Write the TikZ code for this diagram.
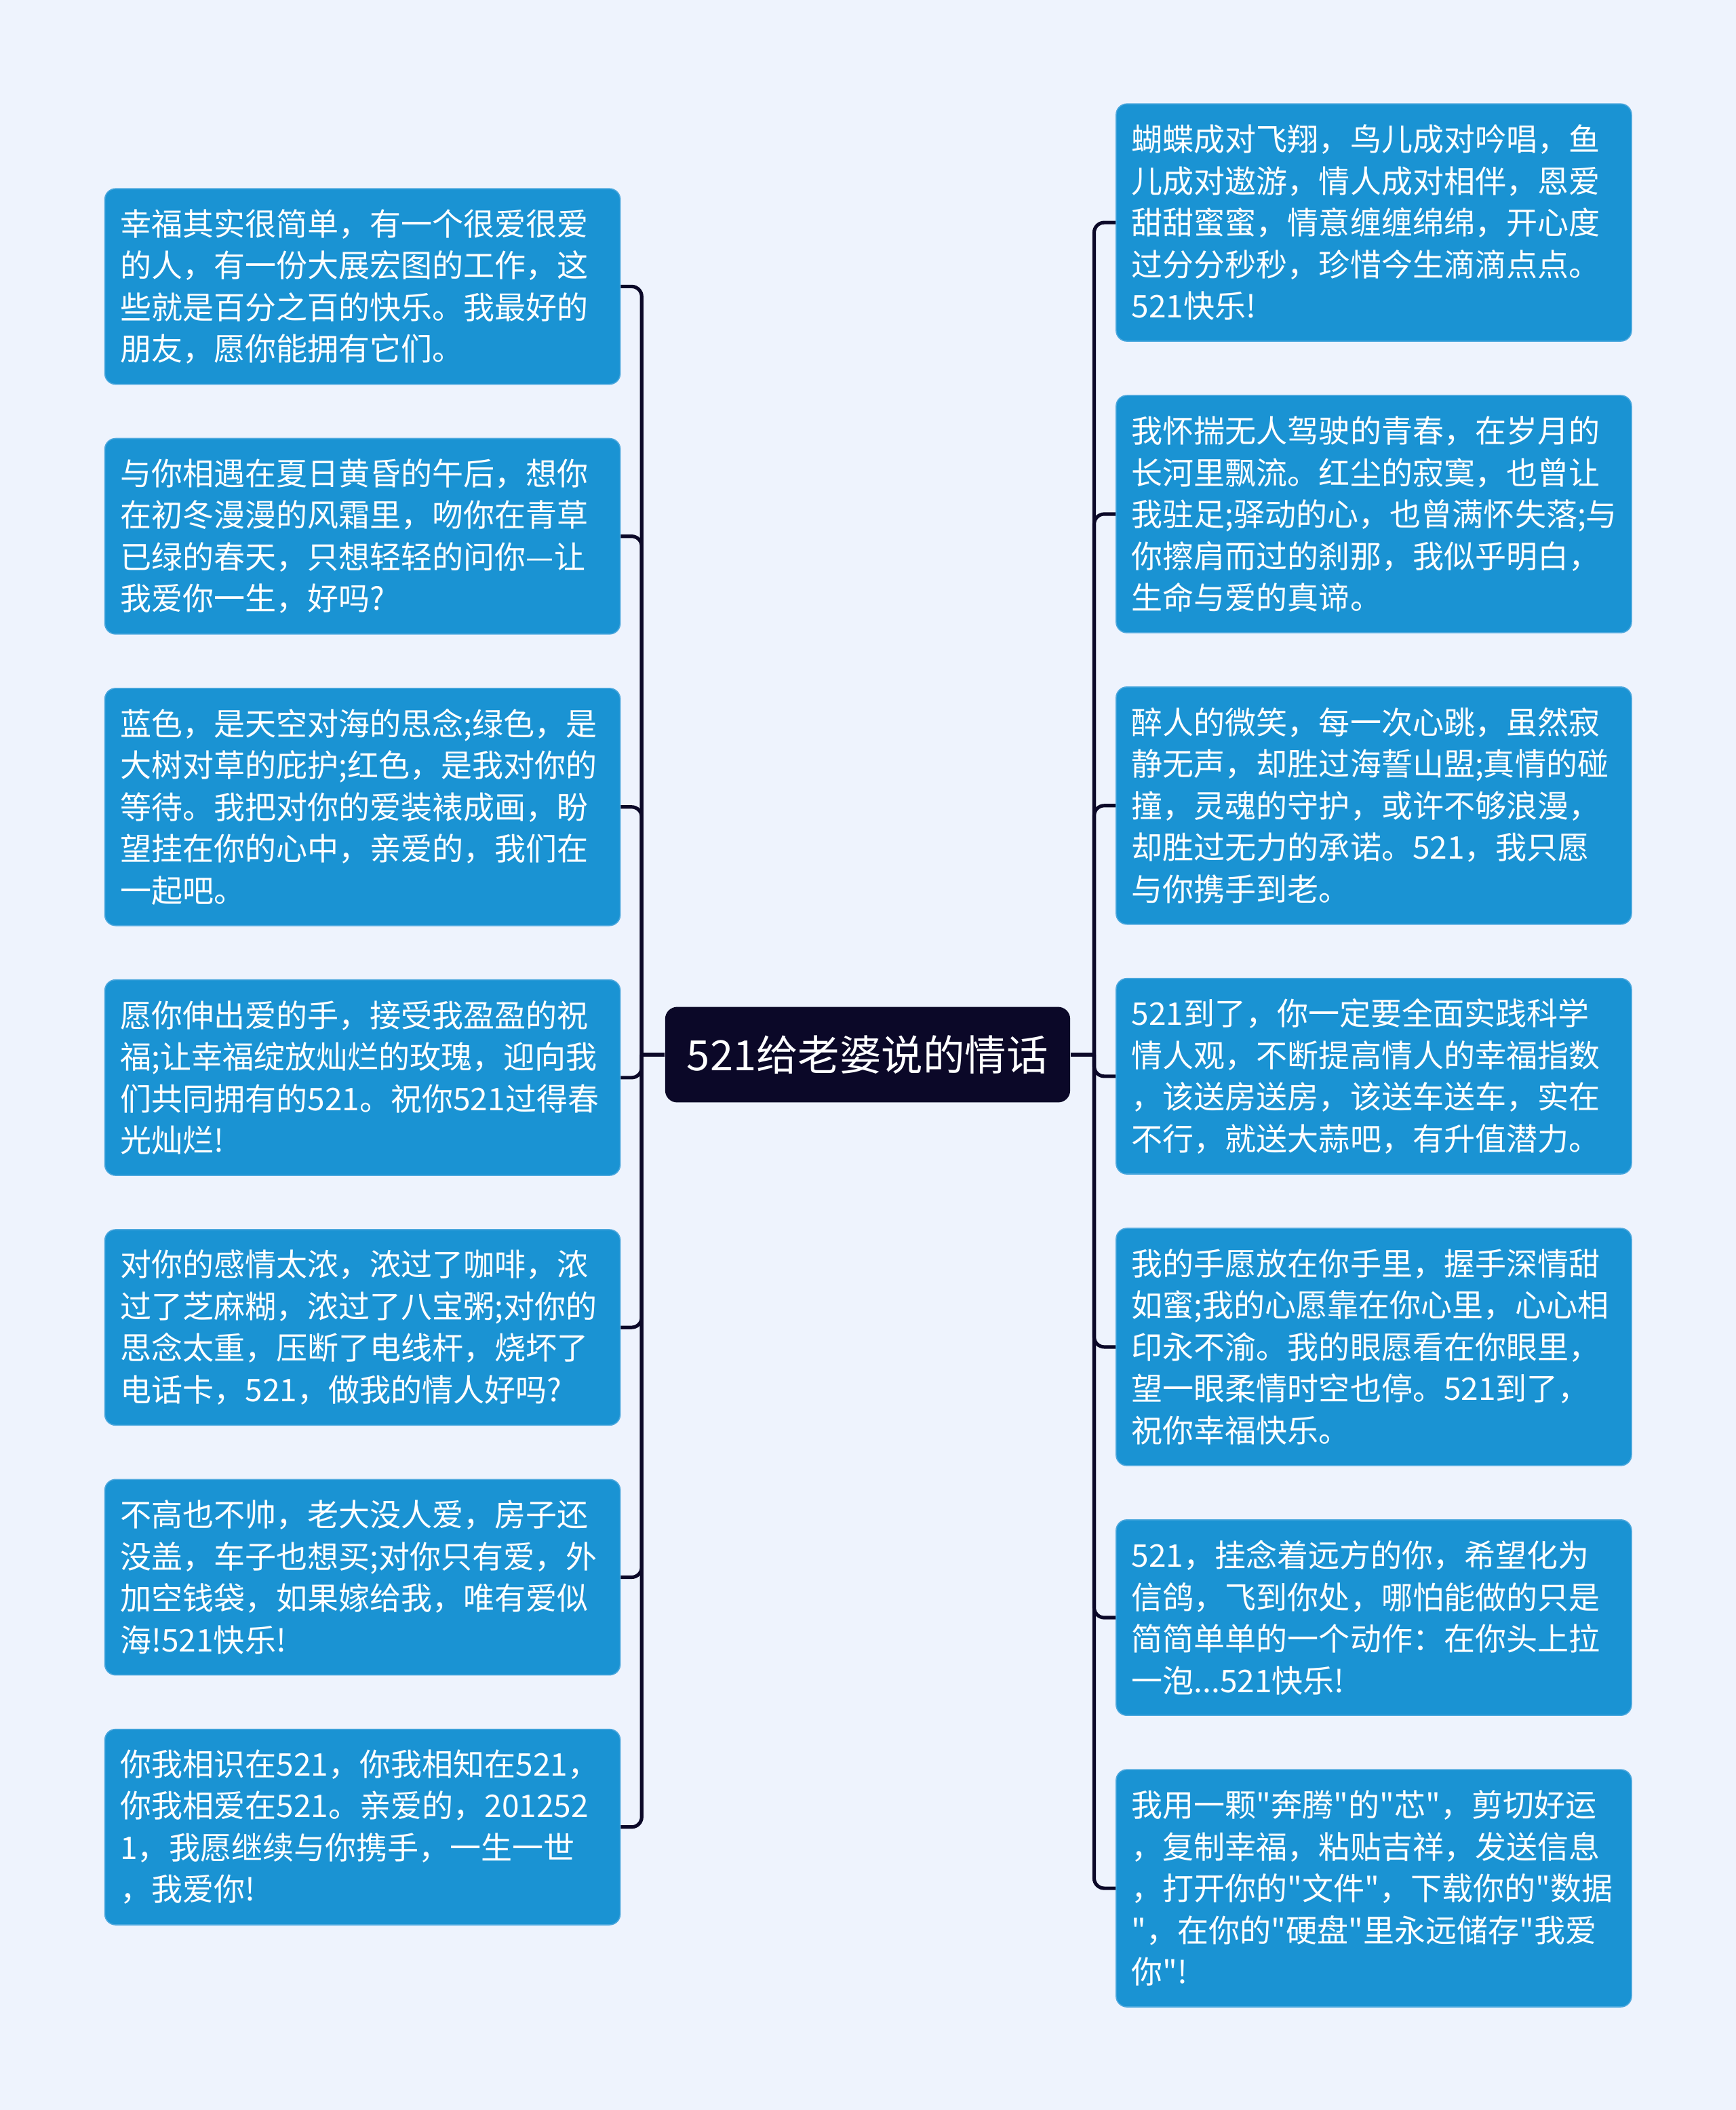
\documentclass[tikz,border=0pt]{standalone}
\usepackage{fontspec}
\newfontfamily\cjk{Noto Sans CJK SC}
\usetikzlibrary{positioning}
\definecolor{bgblue}{HTML}{EEF3FD}
\definecolor{leafblue}{HTML}{1A93D3}
\definecolor{leafedge}{HTML}{4BA7DD}
\definecolor{rootnavy}{HTML}{0B0828}

\begin{document}
\begin{tikzpicture}[leaf/.style={draw=leafedge, line width=0.8pt, fill=leafblue, rounded corners=8pt, text=white, font=\cjk\fontsize{23.2pt}{31pt}\selectfont, text width=360pt, align=left, inner xsep=11.5pt, inner ysep=0pt, minimum height={#1*31pt+21.3pt}},
  root/.style={fill=rootnavy, rounded corners=9pt, text=white, font=\cjk\fontsize{31pt}{36pt}\selectfont, minimum width=301pt, minimum height=71pt, inner sep=0pt},
  branch/.style={draw=rootnavy, line width=2.6pt, rounded corners=7.5pt},
  node distance=39.5pt]
\path[use as bounding box, fill=bgblue] (0,0) rectangle (1290pt,-1567.7pt);

\node[root] (root) at (644.75pt,-783.6pt) {521给老婆说的情话};

\node[leaf=4, anchor=north west] (l1) at (77.5pt,-139.8pt) {幸福其实很简单，有一个很爱很爱\\的人，有一份大展宏图的工作，这\\些就是百分之百的快乐。我最好的\\朋友，愿你能拥有它们。};
\node[leaf=4, below=of l1] (l2) {与你相遇在夏日黄昏的午后，想你\\在初冬漫漫的风霜里，吻你在青草\\已绿的春天，只想轻轻的问你—让\\我爱你一生，好吗?};
\node[leaf=5, below=of l2] (l3) {蓝色，是天空对海的思念;绿色，是\\大树对草的庇护;红色，是我对你的\\等待。我把对你的爱装裱成画，盼\\望挂在你的心中，亲爱的，我们在\\一起吧。};
\node[leaf=4, below=of l3] (l4) {愿你伸出爱的手，接受我盈盈的祝\\福;让幸福绽放灿烂的玫瑰，迎向我\\们共同拥有的521。祝你521过得春\\光灿烂!};
\node[leaf=4, below=of l4] (l5) {对你的感情太浓，浓过了咖啡，浓\\过了芝麻糊，浓过了八宝粥;对你的\\思念太重，压断了电线杆，烧坏了\\电话卡，521，做我的情人好吗?};
\node[leaf=4, below=of l5] (l6) {不高也不帅，老大没人爱，房子还\\没盖，车子也想买;对你只有爱，外\\加空钱袋，如果嫁给我，唯有爱似\\海!521快乐!};
\node[leaf=4, below=of l6] (l7) {你我相识在521，你我相知在521，\\你我相爱在521。亲爱的，201252\\1，我愿继续与你携手，一生一世\\，我爱你!};

\node[leaf=5, anchor=north west] (r1) at (829pt,-76.8pt) {蝴蝶成对飞翔，鸟儿成对吟唱，鱼\\儿成对遨游，情人成对相伴，恩爱\\甜甜蜜蜜，情意缠缠绵绵，开心度\\过分分秒秒，珍惜今生滴滴点点。\\521快乐!};
\node[leaf=5, below=of r1] (r2) {我怀揣无人驾驶的青春，在岁月的\\长河里飘流。红尘的寂寞，也曾让\\我驻足;驿动的心，也曾满怀失落;与\\你擦肩而过的刹那，我似乎明白，\\生命与爱的真谛。};
\node[leaf=5, below=of r2] (r3) {醉人的微笑，每一次心跳，虽然寂\\静无声，却胜过海誓山盟;真情的碰\\撞，灵魂的守护，或许不够浪漫，\\却胜过无力的承诺。521，我只愿\\与你携手到老。};
\node[leaf=4, below=of r3] (r4) {521到了，你一定要全面实践科学\\情人观，不断提高情人的幸福指数\\，该送房送房，该送车送车，实在\\不行，就送大蒜吧，有升值潜力。};
\node[leaf=5, below=of r4] (r5) {我的手愿放在你手里，握手深情甜\\如蜜;我的心愿靠在你心里，心心相\\印永不渝。我的眼愿看在你眼里，\\望一眼柔情时空也停。521到了，\\祝你幸福快乐。};
\node[leaf=4, below=of r5] (r6) {521，挂念着远方的你，希望化为\\信鸽，飞到你处，哪怕能做的只是\\简简单单的一个动作：在你头上拉\\一泡...521快乐!};
\node[leaf=5, below=of r6] (r7) {我用一颗"奔腾"的"芯"，剪切好运\\，复制幸福，粘贴吉祥，发送信息\\，打开你的"文件"，下载你的"数据\\"，在你的"硬盘"里永远储存"我爱\\你"!};

\coordinate[left=17.2pt of root] (lfork);
\coordinate[right=17.6pt of root] (rfork);
\draw[branch] (root.west) -- (lfork);
\draw[branch] (root.east) -- (rfork);
\foreach \i in {1,...,7} {
  \draw[branch] (lfork) |- (l\i.east);
  \draw[branch] (rfork) |- (r\i.west);
}
\end{tikzpicture}
\end{document}
